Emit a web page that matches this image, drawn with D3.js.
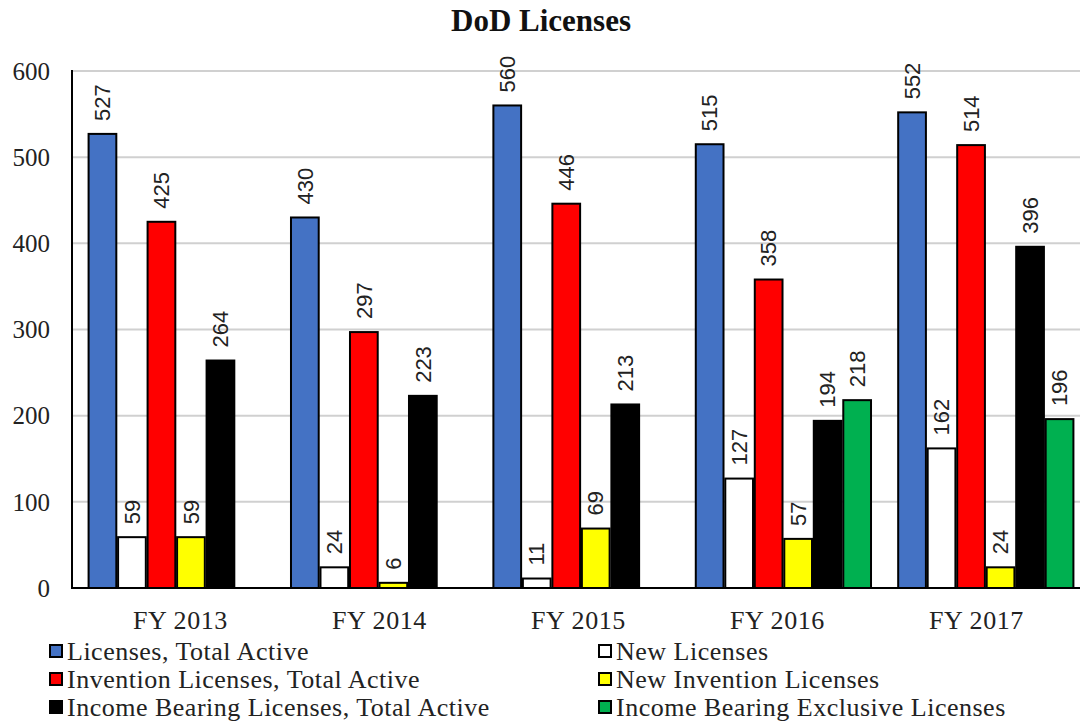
<!DOCTYPE html>
<html><head><meta charset="utf-8">
<script src="https://cdn.jsdelivr.net/npm/d3@7"></script>
<style>
html,body{margin:0;padding:0;background:#fff;}
svg{display:block;}
</style></head>
<body>
<svg id="chart" width="1080" height="721"></svg>
<script>
const categories = ["FY 2013", "FY 2014", "FY 2015", "FY 2016", "FY 2017"];
const seriesNames = [
  "Licenses, Total Active",
  "New Licenses",
  "Invention Licenses, Total Active",
  "New Invention Licenses",
  "Income Bearing Licenses, Total Active",
  "Income Bearing Exclusive Licenses"
];
const licensesTotalActive = [527, 430, 560, 515, 552];
const newLicenses = [59, 24, 11, 127, 162];
const inventionTotalActive = [425, 297, 446, 358, 514];
const newInvention = [59, 6, 69, 57, 24];
const incomeBearingTotal = [264, 223, 213, 194, 396];
const incomeBearingExclusive = [null, null, null, 218, 196];
const seriesColors = ["#4472C4", "#FFFFFF", "#FF0000", "#FFFF00", "#000000", "#00B050"];
const yTicks = [0, 100, 200, 300, 400, 500, 600];

const seriesValues = [licensesTotalActive, newLicenses, inventionTotalActive, newInvention, incomeBearingTotal, incomeBearingExclusive];

const svg = d3.select("#chart");
const axisX = 72, plotTop = 71, plotBottom = 588;

const x0 = d3.scaleBand().domain(categories).range([75, 1087]).paddingInner(0).paddingOuter(0);
const xLabel = d3.scaleBand().domain(categories).range([81, 1076]);
const groupW = 177;
const x1 = d3.scaleBand().domain(d3.range(seriesNames.length)).range([0, groupW]).paddingInner(0.06).paddingOuter(0.03);
const y = d3.scaleLinear().domain([0, 600]).range([plotBottom, plotTop]);

// gridlines
svg.append("g").selectAll("line").data(yTicks.filter(d => d > 0)).join("line")
  .attr("x1", axisX).attr("x2", 1080)
  .attr("y1", d => y(d)).attr("y2", d => y(d))
  .attr("stroke", "#d0d0d0").attr("stroke-width", 2);

// y tick labels
svg.append("g").selectAll("text").data(yTicks).join("text")
  .attr("x", 50).attr("y", d => y(d))
  .attr("dy", "0.35em")
  .attr("text-anchor", "end")
  .attr("font-family", "Liberation Serif, Times New Roman, serif")
  .attr("font-size", 25).attr("fill", "#222")
  .text(d => d);

// bars
const groups = svg.append("g").selectAll("g").data(categories).join("g")
  .attr("transform", c => `translate(${x0(c) + x0.bandwidth() / 2 - groupW / 2},0)`);

groups.each(function(c, ci) {
  const g = d3.select(this);
  const items = seriesValues.map((arr, si) => ({ si, v: arr[ci] })).filter(d => d.v != null);
  g.selectAll("rect").data(items).join("rect")
    .attr("x", d => x1(d.si))
    .attr("width", x1.bandwidth())
    .attr("y", d => y(d.v))
    .attr("height", d => y(0) - y(d.v))
    .attr("fill", d => seriesColors[d.si])
    .attr("stroke", "#000").attr("stroke-width", 2);
  g.selectAll("text").data(items).join("text")
    .attr("transform", d => `translate(${x1(d.si) + x1.bandwidth() / 2},${y(d.v) - 13}) rotate(-90)`)
    .attr("dy", "0.35em")
    .attr("text-anchor", "start")
    .attr("font-family", "Liberation Sans Narrow, Arial Narrow, sans-serif")
    .attr("font-size", 22).attr("fill", "#222")
    .text(d => d.v);
});

// axes lines
svg.append("line").attr("x1", axisX).attr("x2", axisX).attr("y1", plotTop - 1).attr("y2", plotBottom + 1)
  .attr("stroke", "#000").attr("stroke-width", 2);
svg.append("line").attr("x1", axisX).attr("x2", 1080).attr("y1", plotBottom).attr("y2", plotBottom)
  .attr("stroke", "#000").attr("stroke-width", 2);

// x labels
svg.append("g").selectAll("text").data(categories).join("text")
  .attr("x", c => xLabel(c) + xLabel.bandwidth() / 2)
  .attr("y", 629)
  .attr("text-anchor", "middle")
  .attr("font-family", "Liberation Serif, Times New Roman, serif")
  .attr("font-size", 26).attr("letter-spacing", 0.6).attr("fill", "#222")
  .text(c => c);

// title
svg.append("text").attr("x", 541).attr("y", 31)
  .attr("text-anchor", "middle")
  .attr("font-family", "Liberation Serif, Times New Roman, serif")
  .attr("font-weight", "bold").attr("font-size", 31).attr("fill", "#111")
  .text("DoD Licenses");

// legend
const legend = svg.append("g").selectAll("g").data(seriesNames).join("g")
  .attr("transform", (d, i) => `translate(${i % 2 === 0 ? 50 : 599},${651 + Math.floor(i / 2) * 28})`);
legend.append("rect").attr("x", 0).attr("y", -6).attr("width", 12).attr("height", 12)
  .attr("fill", (d, i) => seriesColors[i]).attr("stroke", "#000").attr("stroke-width", 2);
legend.append("text").attr("x", 17).attr("y", 0).attr("dy", "0.35em")
  .attr("font-family", "Liberation Serif, Times New Roman, serif")
  .attr("font-size", 26).attr("letter-spacing", 0.5).attr("fill", "#222")
  .text(d => d);
</script>
</body></html>
